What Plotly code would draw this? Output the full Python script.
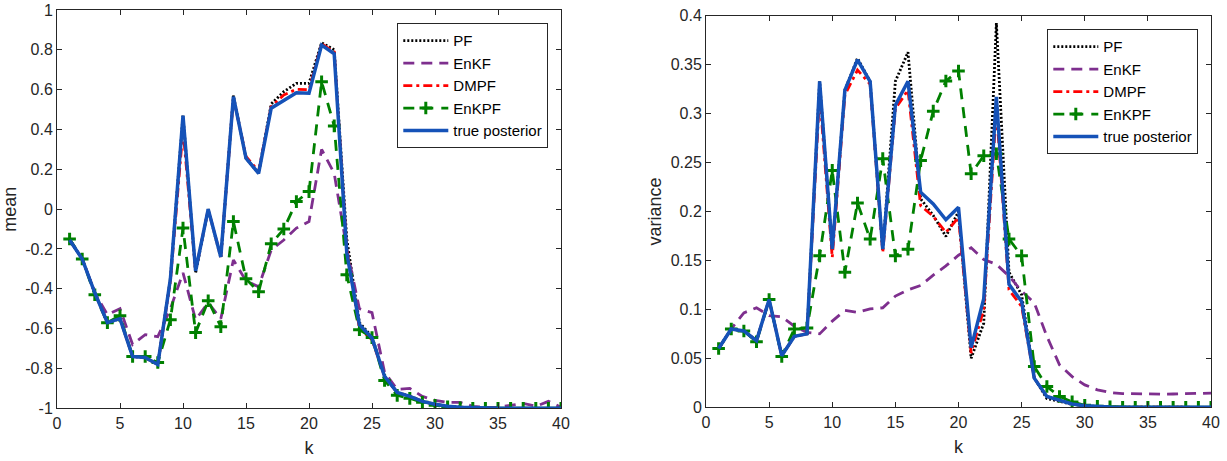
import plotly.graph_objects as go

k = list(range(1, 41))

# ---- left panel: mean ----
mean_true = [-0.155, -0.25, -0.42, -0.57, -0.55, -0.74, -0.745, -0.78, -0.35, 0.47,
             -0.31, 0.0, -0.24, 0.565, 0.256, 0.18, 0.507, 0.548, 0.585, 0.582,
             0.824, 0.78, -0.22, -0.58, -0.647, -0.84, -0.92, -0.94, -0.965, -0.98,
             -0.99, -0.995, -0.998, -1.0, -1.0, -1.0, -1.0, -1.0, -1.0, -1.0]
mean_pf = [-0.155, -0.25, -0.42, -0.57, -0.55, -0.74, -0.745, -0.78, -0.35, 0.47,
           -0.32, 0.0, -0.245, 0.57, 0.256, 0.18, 0.528, 0.59, 0.632, 0.632,
           0.836, 0.80, -0.15, -0.57, -0.64, -0.84, -0.92, -0.94, -0.965, -0.98,
           -0.99, -0.995, -0.998, -1.0, -1.0, -1.0, -1.0, -1.0, -1.0, -1.0]
mean_dmpf = [-0.155, -0.25, -0.42, -0.57, -0.55, -0.74, -0.745, -0.78, -0.36, 0.40,
             -0.31, 0.0, -0.24, 0.56, 0.265, 0.19, 0.515, 0.573, 0.602, 0.60,
             0.83, 0.79, -0.2, -0.6, -0.655, -0.84, -0.92, -0.94, -0.965, -0.98,
             -0.99, -0.995, -0.998, -1.0, -1.0, -1.0, -1.0, -1.0, -1.0, -1.0]
mean_enkpf = [-0.15, -0.25, -0.43, -0.57, -0.535, -0.74, -0.74, -0.77, -0.555, -0.095,
              -0.62, -0.46, -0.59, -0.062, -0.35, -0.415, -0.174, -0.10, 0.038, 0.088,
              0.64, 0.418, -0.33, -0.605, -0.645, -0.86, -0.935, -0.95, -0.97, -0.985,
              -0.993, -0.997, -1.0, -1.0, -1.0, -1.0, -1.0, -1.0, -1.0, -1.0]
mean_enkf = [-0.15, -0.25, -0.42, -0.53, -0.5, -0.68, -0.63, -0.64, -0.5, -0.32,
             -0.555, -0.47, -0.55, -0.255, -0.36, -0.39, -0.205, -0.155, -0.095, -0.062,
             0.30, 0.18, -0.2, -0.5, -0.52, -0.82, -0.905, -0.9, -0.94, -0.96,
             -0.97, -0.97, -0.99, -0.995, -0.995, -0.985, -0.975, -0.99, -0.965, -0.995]

# ---- right panel: variance ----
var_true = [0.06, 0.08, 0.078, 0.068, 0.11, 0.0527, 0.0725, 0.075, 0.333, 0.1615,
            0.324, 0.355, 0.3327, 0.1615, 0.3086, 0.333, 0.2197, 0.2077, 0.1916, 0.2043,
            0.061, 0.111, 0.317, 0.1256, 0.108, 0.0298, 0.011, 0.0068, 0.0034, 0.0015,
            0.0006, 0.0002, 0.0001, 0.0, 0.0, 0.0, 0.0, 0.0, 0.0, 0.0]
var_pf = [0.06, 0.08, 0.078, 0.068, 0.11, 0.0527, 0.0725, 0.075, 0.333, 0.16,
          0.324, 0.3566, 0.3327, 0.16, 0.333, 0.3627, 0.213, 0.196, 0.1745, 0.2,
          0.050, 0.086, 0.3925, 0.138, 0.115, 0.03, 0.009, 0.006, 0.003, 0.0015,
          0.0006, 0.0002, 0.0001, 0.0, 0.0, 0.0, 0.0, 0.0, 0.0, 0.0]
var_dmpf = [0.06, 0.08, 0.078, 0.068, 0.11, 0.0527, 0.0725, 0.075, 0.32, 0.153,
            0.319, 0.3446, 0.33, 0.158, 0.305, 0.324, 0.206, 0.195, 0.1786, 0.194,
            0.0554, 0.1, 0.305, 0.12, 0.103, 0.03, 0.011, 0.0068, 0.0034, 0.0015,
            0.0006, 0.0002, 0.0001, 0.0, 0.0, 0.0, 0.0, 0.0, 0.0, 0.0]
var_enkpf = [0.06, 0.08, 0.078, 0.067, 0.11, 0.052, 0.08, 0.081, 0.1547, 0.242,
             0.138, 0.2087, 0.1718, 0.254, 0.1547, 0.1615, 0.252, 0.3025, 0.3333, 0.3435,
             0.2385, 0.257, 0.259, 0.1718, 0.1547, 0.0417, 0.0212, 0.011, 0.0055, 0.002,
             0.001, 0.0005, 0.0, 0.0, 0.0, 0.0, 0.0, 0.0, 0.0, 0.0]
var_enkf = [0.06, 0.08, 0.0965, 0.1016, 0.0937, 0.0924, 0.0828, 0.0766, 0.075, 0.088,
            0.099, 0.097, 0.1006, 0.1016, 0.1136, 0.12, 0.1245, 0.135, 0.1444, 0.1553,
            0.163, 0.151, 0.146, 0.134, 0.1187, 0.1067, 0.0725, 0.0434, 0.0314, 0.0229,
            0.0178, 0.0151, 0.014, 0.0137, 0.0135, 0.0135, 0.0136, 0.0138, 0.014, 0.0145]

x_ticks = [0, 5, 10, 15, 20, 25, 30, 35, 40]
mean_ticks = [-1, -0.8, -0.6, -0.4, -0.2, 0, 0.2, 0.4, 0.6, 0.8, 1]
mean_ticktext = ["-1", "-0.8", "-0.6", "-0.4", "-0.2", "0", "0.2", "0.4", "0.6", "0.8", "1"]
var_ticks = [0, 0.05, 0.1, 0.15, 0.2, 0.25, 0.3, 0.35, 0.4]
var_ticktext = ["0", "0.05", "0.1", "0.15", "0.2", "0.25", "0.3", "0.35", "0.4"]

names = ["PF", "EnKF", "DMPF", "EnKPF", "true posterior"]
colors = {"PF": "#000000", "EnKF": "#7E2F8E", "DMPF": "#FF0000",
          "EnKPF": "#008000", "true posterior": "#1552B8"}
dashes = {"PF": "2px,2px", "EnKF": "11px,7px", "DMPF": "9px,4px,3px,4px",
          "EnKPF": "11px,8px", "true posterior": "solid"}
widths = {"PF": 2.8, "EnKF": 2.8, "DMPF": 2.8, "EnKPF": 2.8, "true posterior": 3.5}

left_data = {"PF": mean_pf, "EnKF": mean_enkf, "DMPF": mean_dmpf,
             "EnKPF": mean_enkpf, "true posterior": mean_true}
right_data = {"PF": var_pf, "EnKF": var_enkf, "DMPF": var_dmpf,
              "EnKPF": var_enkpf, "true posterior": var_true}

FONT = "Liberation Sans, Arial, Helvetica, sans-serif"
fig = go.Figure()

for data, xa, ya, leg in [(left_data, "x", "y", "legend"), (right_data, "x2", "y2", "legend2")]:
    for n in names:
        kw = dict(x=k, y=data[n], name=n, xaxis=xa, yaxis=ya, legend=leg,
                  line=dict(color=colors[n], dash=dashes[n], width=widths[n]))
        if n == "EnKPF":
            kw["mode"] = "lines+markers"
            kw["marker"] = dict(symbol="cross-thin", size=9, color=colors[n],
                                line=dict(color=colors[n], width=3))
        else:
            kw["mode"] = "lines"
        fig.add_trace(go.Scatter(**kw))

W, H = 1227, 461


def fx(px):
    return px / W


def fy(py):
    return 1 - py / H


axis_common = dict(showline=True, linecolor="#262626", linewidth=1, mirror="ticks",
                   ticks="inside", ticklen=5, tickcolor="#262626", showgrid=False,
                   zeroline=False, automargin=False,
                   tickfont=dict(family=FONT, size=16, color="#262626"),
                   title_font=dict(family=FONT, size=18, color="#262626"))

fig.update_layout(
    width=W, height=H,
    autosize=False,
    margin=dict(l=0, r=0, t=0, b=0, pad=0),
    paper_bgcolor="white", plot_bgcolor="white",
    font=dict(family=FONT, color="#262626"),
    xaxis=dict(domain=[fx(57), fx(561)], range=[0, 40], tickvals=x_ticks,
               anchor="y", title=dict(text="k", standoff=10), **axis_common),
    yaxis=dict(domain=[fy(408.3), fy(10)], range=[-1, 1], tickvals=mean_ticks,
               ticktext=mean_ticktext, anchor="x", title=dict(text="mean", standoff=4),
               **axis_common),
    xaxis2=dict(domain=[fx(706), fx(1211)], range=[0, 40], tickvals=x_ticks,
                anchor="y2", title=dict(text="k", standoff=10), **axis_common),
    yaxis2=dict(domain=[fy(407.3), fy(15.7)], range=[0, 0.4], tickvals=var_ticks,
                ticktext=var_ticktext, anchor="x2", title=dict(text="variance", standoff=4),
                **axis_common),
    legend=dict(x=fx(548.3), y=fy(23.3), xanchor="right", yanchor="top",
                bgcolor="white", bordercolor="#262626", borderwidth=1, itemwidth=45,
                font=dict(family=FONT, size=15, color="#000000"), tracegroupgap=0),
    legend2=dict(x=fx(1198.3), y=fy(29.3), xanchor="right", yanchor="top",
                 bgcolor="white", bordercolor="#262626", borderwidth=1, itemwidth=45,
                 font=dict(family=FONT, size=15, color="#000000"), tracegroupgap=0),
    showlegend=True,
)

fig.write_html("out.html", config={"displayModeBar": False},
               post_script="document.body.style.margin='0';document.body.style.overflow='hidden';")
